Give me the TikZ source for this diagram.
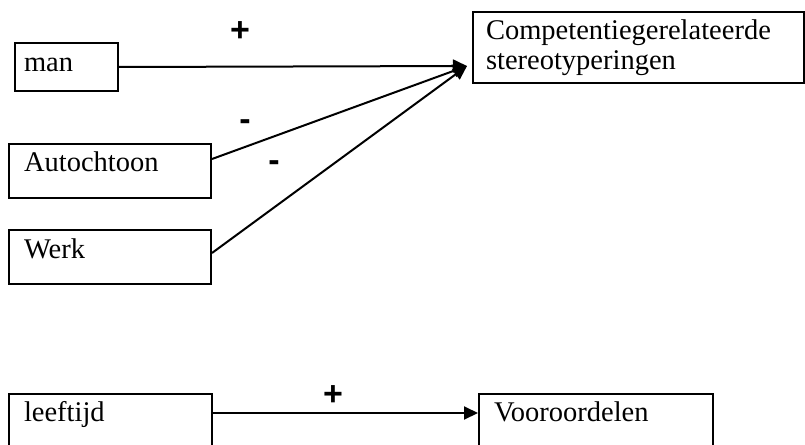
\documentclass[tikz,border=0pt]{standalone}
\usepackage{fontspec}
\setmainfont{Liberation Serif}
\newfontfamily\signfont{Liberation Sans}
\usetikzlibrary{arrows.meta}
\newcommand{\arw}{-{Triangle[length=14pt,width=13pt]}}

\begin{document}
\begin{tikzpicture}[x=1pt,y=-1pt,line width=2pt,
  varbox/.style={draw,anchor=north west,inner ysep=0pt,
    font=\fontsize{28.5}{30}\selectfont,align=left},
  sign/.style={font=\signfont\bfseries\fontsize{34}{34}\selectfont,inner sep=0pt}]
\useasboundingbox (0,0) rectangle (805,444);
%predictors
\node[varbox,inner xsep=9pt,text width=85pt,text height=28pt,text depth=20pt] (man) at (14,42) {man};
\node[varbox,inner xsep=15pt,text width=172pt,text height=27pt,text depth=27pt] (auto) at (8,143) {Autochtoon};
\node[varbox,inner xsep=15pt,text width=172pt,text height=28pt,text depth=26pt] (werk) at (8,229) {Werk};
\node[varbox,inner xsep=13pt,text width=305pt,minimum height=71pt] (comp) at (472,11) {Competentiegerelateerde\\stereotyperingen};
\coordinate (ctip) at (467,66);
\draw[\arw] (man.east) -- (ctip);
\draw[\arw] ([yshift=12pt]auto.east) -- (ctip);
\draw[\arw] ([yshift=4pt]werk.east) -- (ctip);
\node[sign] (plus1) at (240,32) {+};
\node[sign] (min1) at (245,125) {-};
\node[sign] (min2) at (274,166) {-};
%age
\node[varbox,inner xsep=15pt,text width=173pt,text height=27pt,text depth=30pt] (leef) at (8,393) {leeftijd};
\node[varbox,inner xsep=15pt,text width=204pt,text height=27pt,text depth=30pt] (voor) at (478,393) {Vooroordelen};
\draw[\arw] ([yshift=9.5pt]leef.east) -- ([yshift=9.5pt]voor.west);
\node[sign] (plus2) at (333,396) {+};
\end{tikzpicture}
\end{document}
